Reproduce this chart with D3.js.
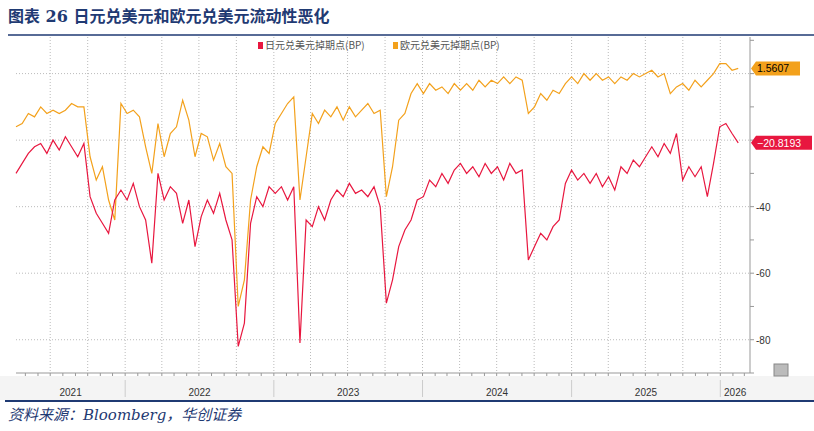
<!DOCTYPE html><html><head><meta charset="utf-8"><script src="https://cdn.jsdelivr.net/npm/d3@7"></script>
<style>body{margin:0;background:#fff}</style></head><body><svg id="c" width="814" height="431"></svg>
<script>
const seriesNames = ["日元兑美元掉期点(BP)", "欧元兑美元掉期点(BP)"];
const startDate = "2021-04-08", endDate = "2026-02-14";
const jpy = [-30,-27,-24,-22,-21,-24,-20,-23,-19,-22,-25,-21,-37,-42,-45,-48,-38,-35,-38,-33,-40,-44,-57,-30,-38,-34,-36,-45,-38,-52,-43,-38,-42,-36,-44,-50,-82,-75,-45,-37,-40,-34,-36,-34,-38,-34,-81,-44,-46,-40,-44,-38,-35,-37,-33,-36,-35,-37,-34,-40,-69,-62,-52,-47,-44,-38,-37,-32,-34,-30,-33,-29,-27,-30,-28,-31,-27,-30,-28,-32,-27,-30,-29,-56,-52,-48,-50,-46,-44,-33,-29,-32,-30,-33,-30,-34,-31,-35,-28,-30,-26,-28,-25,-22,-25,-21,-24,-18,-32,-28,-31,-28,-37,-27,-16,-15,-18,-20.8193];
const eur = [-16,-15,-12,-13,-10,-12,-11,-12,-11,-9,-10,-10,-25,-32,-28,-38,-44,-9,-12,-11,-13,-22,-30,-15,-25,-18,-16,-8,-14,-25,-18,-19,-26,-21,-28,-30,-70,-62,-38,-28,-22,-24,-15,-12,-9,-7,-38,-25,-12,-15,-11,-13,-10,-14,-10,-13,-11,-9,-12,-11,-37,-28,-14,-12,-6,-3,-6,-3,-5,-4,-6,-3,-5,-3,-5,-2,-4,-2,-3,-1,-3,-1,-2,-12,-10,-6,-8,-5,-6,-3,-1,-3,0,-2,0,-2,-1,-3,-1,-2,0,-1,0,1,-1,0,-6,-4,-3,-5,-2,-4,-2,0,3,3,1,1.5607];
const yTicks = [0,-20,-40,-60,-80];
const years = ["2021","2022","2023","2024","2025","2026"];
const colors = ["#e8173f","#f3a11c"];

const svg = d3.select("#c");
const L=16,R=750,T=37,B=373;
const p = d3.timeParse("%Y-%m-%d");
const s0=p(startDate), s1=p(endDate);
const dates = jpy.map((_,i)=>new Date(+s0 + (s1-s0)*i/(jpy.length-1)));
const x = d3.scaleTime().domain([p("2021-04-08"), p("2026-03-10")]).range([L,R-2]);
const y = d3.scaleLinear().domain([-90,11]).range([B,T]);

svg.append("text").attr("x",8).attr("y",22).attr("fill","#1f3a73").attr("font-size",16).attr("font-weight","bold")
  .attr("font-family","'DejaVu Serif','Noto Sans CJK SC',serif").text("图表 26  日元兑美元和欧元兑美元流动性恶化");
svg.append("line").attr("x1",8).attr("x2",814).attr("y1",35).attr("y2",35).attr("stroke","#1f3a73").attr("stroke-width",1.5);

const g=svg.append("g");
g.selectAll(".vg").data(d3.timeMonth.every(3).range(x.domain()[0],x.domain()[1])).join("line")
 .attr("x1",d=>x(d)).attr("x2",d=>x(d)).attr("y1",T).attr("y2",B).attr("stroke","#bbb").attr("stroke-dasharray","1,2");
g.selectAll(".hg").data(yTicks).join("line").attr("x1",L).attr("x2",R).attr("y1",d=>y(d)).attr("y2",d=>y(d)).attr("stroke","#bbb").attr("stroke-dasharray","1,2");

svg.append("line").attr("x1",R).attr("x2",R).attr("y1",T).attr("y2",B).attr("stroke","#999");
svg.append("line").attr("x1",L).attr("x2",R).attr("y1",B).attr("y2",B).attr("stroke","#999");
svg.selectAll(".yt").data(d3.range(-90,11,10)).join("line").attr("x1",R).attr("x2",R+4).attr("y1",d=>y(d)).attr("y2",d=>y(d)).attr("stroke","#999");
svg.selectAll(".yl").data(yTicks.filter(d=>d!==0&&d!==-20)).join("text").attr("x",R+6).attr("y",d=>y(d)+4)
 .attr("font-size",10).attr("fill","#333").attr("font-family","Arial,'Liberation Sans',sans-serif").text(d=>d);
svg.selectAll(".xt").data(d3.timeMonth.range(x.domain()[0],x.domain()[1])).join("line").attr("x1",d=>x(d)).attr("x2",d=>x(d)).attr("y1",B).attr("y2",B+3).attr("stroke","#999");
svg.append("rect").attr("x",0).attr("y",B+3).attr("width",814).attr("height",24).attr("fill","#f4f4f4");
const yd = years.map(v=>p(v+"-01-01"));
svg.selectAll(".ys").data(yd.slice(1)).join("line").attr("x1",d=>x(d)).attr("x2",d=>x(d)).attr("y1",B+7).attr("y2",B+24).attr("stroke","#ccc");
svg.selectAll(".yy").data(years).join("text").attr("text-anchor","middle").attr("y",B+23).attr("font-size",10).attr("fill","#333")
 .attr("font-family","Arial,'Liberation Sans',sans-serif")
 .attr("x",(d,i)=>{const a=Math.max(L,x(yd[i])); const b=i<years.length-1?x(yd[i+1]):R; return (a+b)/2;}).text(d=>d);
svg.append("rect").attr("x",774).attr("y",364).attr("width",14).attr("height",12).attr("fill","#bbb").attr("stroke","#888");
svg.append("line").attr("x1",5).attr("x2",814).attr("y1",401).attr("y2",401).attr("stroke","#1f3a73").attr("stroke-width",2);

const line=d3.line().x((d,i)=>x(dates[i])).y(d=>y(d));
[eur,jpy].forEach((s,k)=>svg.append("path").attr("d",line(s)).attr("fill","none").attr("stroke",colors[1-k]).attr("stroke-width",1.2));

const lg=svg.append("g").attr("font-size",10).attr("fill","#555").attr("font-family","'Noto Sans CJK SC',sans-serif");
[[258,0],[393,1]].forEach(([lx,k])=>{lg.append("rect").attr("x",lx).attr("y",42).attr("width",5).attr("height",7).attr("fill",colors[k]);
 lg.append("text").attr("x",lx+7).attr("y",49).text(seriesNames[k]);});

[[eur,1,"#000",50],[jpy,0,"#fff",62]].forEach(([s,k,tc,w])=>{const v=s[s.length-1], cy=y(v);
 svg.append("path").attr("d",`M${R+1},${cy} L${R+6},${cy-7} H${R+w} V${cy+7} H${R+6} Z`).attr("fill",colors[k]);
 svg.append("text").attr("x",R+7).attr("y",cy+4).attr("font-size",10.5).attr("fill",tc).attr("font-family","Arial,'Liberation Sans',sans-serif").text(d3.format(".4f")(v));});

svg.append("text").attr("x",8).attr("y",420).attr("font-size",15).attr("font-style","italic").attr("fill","#1f3a73")
 .attr("font-family","'DejaVu Serif','Noto Sans CJK SC',serif").text("资料来源：Bloomberg，华创证券");
</script></body></html>
